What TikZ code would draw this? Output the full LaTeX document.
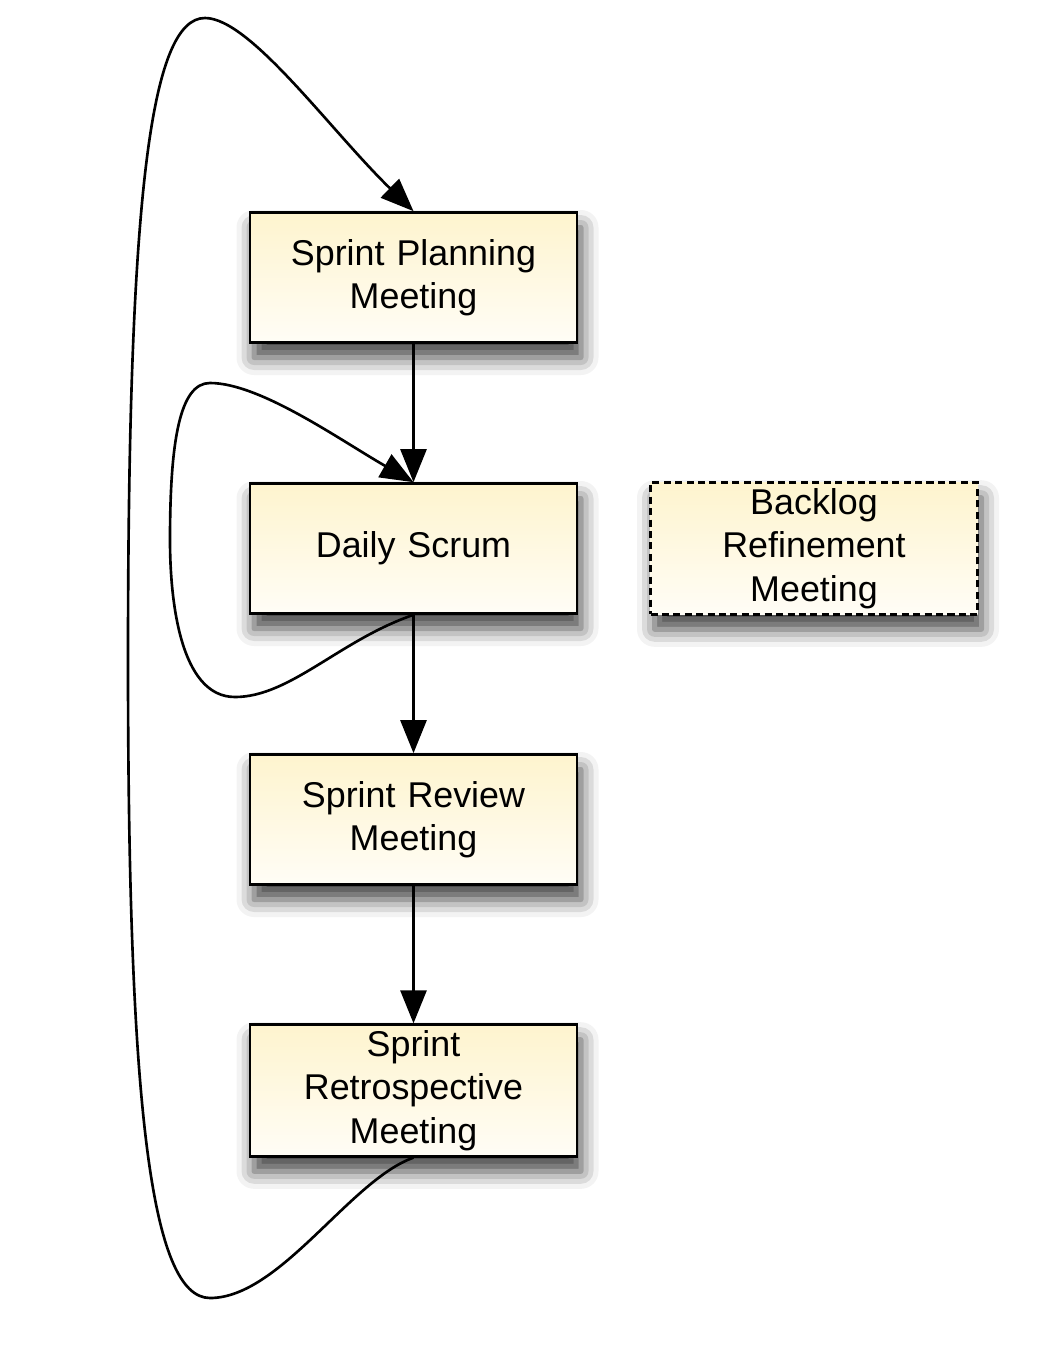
\documentclass[tikz,border=0pt]{standalone}
\usepackage{fontspec}
\setmainfont{Liberation Sans}
\usetikzlibrary{shapes,arrows.meta,shadows.blur}
\definecolor{boxtop}{RGB}{254,244,206}
\definecolor{boxbottom}{RGB}{255,253,246}
\tikzstyle{block} = [rectangle, draw, line width=1.5pt, top color=boxtop, bottom color=boxbottom,
    text width=6.2cm, text centered, minimum width=6.54cm, minimum height=2.6cm,
    font=\fontsize{20.4}{24.6}\selectfont,
    blur shadow={shadow xshift=0.08cm, shadow yshift=-0.3cm, shadow blur radius=0.35cm, shadow opacity=75}]
\tikzstyle{line} = [draw, line width=1.5pt, -{Triangle[length=0.66cm, width=0.52cm]}]

\begin{document}
\begin{tikzpicture}[node distance=5.42cm, auto]
		\useasboundingbox (0,0) rectangle (20.76,-26.92);
		\node [block] (plan) at (8.27,-5.55) {Sprint Planning\\Meeting};
		\node [block, below of=plan] (daily) {Daily Scrum};
		\node [block, below of=daily] (review) {Sprint Review\\Meeting};
		\node [block, below of=review] (retro) {Sprint\\Retrospective\\Meeting};
		\node [block, dash pattern=on 4pt off 2.5pt, node distance=8.01cm, right of=daily] (backlog) {Backlog\\Refinement\\Meeting};
		
		\path [line] (plan) -- (daily);
		\path [line] (daily) -- (review);
		\path [line] (review) -- (retro);
		% daily loop
		\path [line] (daily.south) .. controls (6.8,-12.8) and (5.8,-13.94) .. (4.7,-13.94)
			.. controls (3.6,-13.94) and (3.4,-12) .. (3.4,-10.8)
			.. controls (3.4,-8.8) and (3.6,-7.66) .. (4.2,-7.66)
			.. controls (5.2,-7.66) and (6.8,-8.8) .. (daily.north);
		% sprint loop
		\path [line] (retro.south) .. controls (7.0,-23.6) and (5.6,-25.96) .. (4.2,-25.96)
			.. controls (3.0,-25.96) and (2.56,-22) .. (2.56,-13.2)
			.. controls (2.56,-4) and (3.0,-0.36) .. (4.1,-0.36)
			.. controls (5.0,-0.36) and (6.6,-2.6) .. (plan.north);
	\end{tikzpicture}
\end{document}
